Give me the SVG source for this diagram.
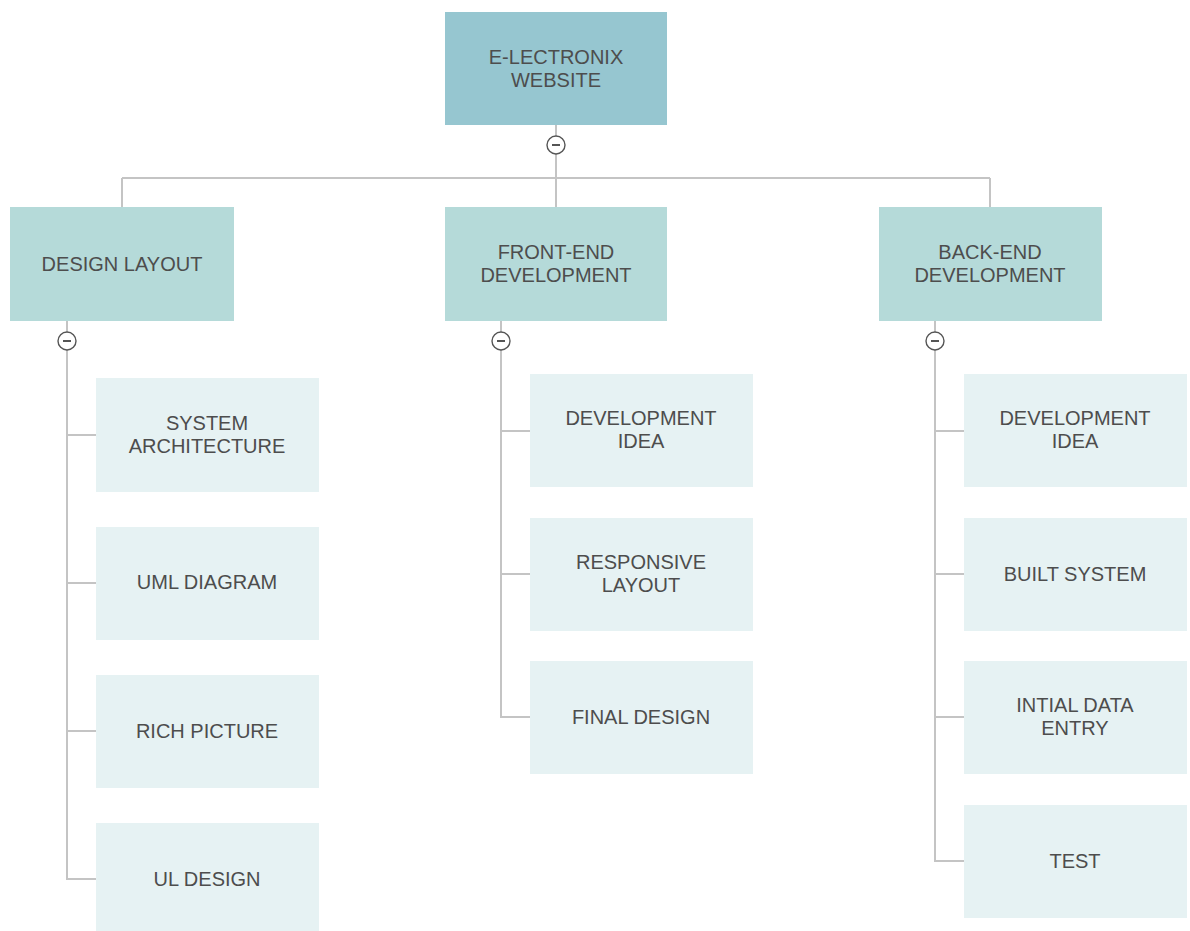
<svg xmlns="http://www.w3.org/2000/svg" width="1190" height="931" viewBox="0 0 1190 931">
<style>
.root{fill:#96c6d0}
.l1{fill:#b5dad9}
.l2{fill:#e6f2f3}
text{font-family:"Liberation Sans",Arial,sans-serif;font-size:20px;fill:#4d4d4d;text-anchor:middle}
.ln{stroke:#c4c4c4;stroke-width:2;fill:none}
.tg circle{fill:#fff;stroke:#555;stroke-width:1.4}
.tg line{stroke:#555;stroke-width:2}
</style>
<rect width="1190" height="931" fill="#fff"/>
<g id="connectors">
<path class="ln" d="M556 125V207M122 178H990M122 178V207M990 178V207"/>
<path class="ln" d="M67 321V879H96M67 435H96M67 583H96M67 731H96"/>
<path class="ln" d="M501 321V717H530M501 431H530M501 574H530"/>
<path class="ln" d="M935 321V861H964M935 431H964M935 574H964M935 717H964"/>
<g class="tg"><circle cx="556" cy="145" r="9"/><line x1="552" y1="145" x2="560" y2="145"/></g>
<g class="tg"><circle cx="67" cy="341" r="9"/><line x1="63" y1="341" x2="71" y2="341"/></g>
<g class="tg"><circle cx="501" cy="341" r="9"/><line x1="497" y1="341" x2="505" y2="341"/></g>
<g class="tg"><circle cx="935" cy="341" r="9"/><line x1="931" y1="341" x2="939" y2="341"/></g>
</g>
<g id="root"><rect class="root" x="445" y="12" width="222" height="113"/><text x="556" y="64">E-LECTRONIX</text><text x="556" y="87">WEBSITE</text></g>
<g id="design"><rect class="l1" x="10" y="207" width="224" height="114"/><text x="122" y="271">DESIGN LAYOUT</text></g>
<g id="frontend"><rect class="l1" x="445" y="207" width="222" height="114"/><text x="556" y="259">FRONT-END</text><text x="556" y="282">DEVELOPMENT</text></g>
<g id="backend"><rect class="l1" x="879" y="207" width="223" height="114"/><text x="990" y="259">BACK-END</text><text x="990" y="282">DEVELOPMENT</text></g>
<g id="sysarch"><rect class="l2" x="96" y="378" width="223" height="114"/><text x="207" y="430">SYSTEM</text><text x="207" y="453">ARCHITECTURE</text></g>
<g id="uml"><rect class="l2" x="96" y="527" width="223" height="113"/><text x="207" y="589">UML DIAGRAM</text></g>
<g id="rich"><rect class="l2" x="96" y="675" width="223" height="113"/><text x="207" y="738">RICH PICTURE</text></g>
<g id="ul"><rect class="l2" x="96" y="823" width="223" height="108"/><text x="207" y="886">UL DESIGN</text></g>
<g id="fe-idea"><rect class="l2" x="530" y="374" width="223" height="113"/><text x="641" y="425">DEVELOPMENT</text><text x="641" y="448">IDEA</text></g>
<g id="fe-resp"><rect class="l2" x="530" y="518" width="223" height="113"/><text x="641" y="569">RESPONSIVE</text><text x="641" y="592">LAYOUT</text></g>
<g id="fe-final"><rect class="l2" x="530" y="661" width="223" height="113"/><text x="641" y="724">FINAL DESIGN</text></g>
<g id="be-idea"><rect class="l2" x="964" y="374" width="223" height="113"/><text x="1075" y="425">DEVELOPMENT</text><text x="1075" y="448">IDEA</text></g>
<g id="be-built"><rect class="l2" x="964" y="518" width="223" height="113"/><text x="1075" y="581">BUILT SYSTEM</text></g>
<g id="be-init"><rect class="l2" x="964" y="661" width="223" height="113"/><text x="1075" y="712">INTIAL DATA</text><text x="1075" y="735">ENTRY</text></g>
<g id="be-test"><rect class="l2" x="964" y="805" width="223" height="113"/><text x="1075" y="868">TEST</text></g>
</svg>
